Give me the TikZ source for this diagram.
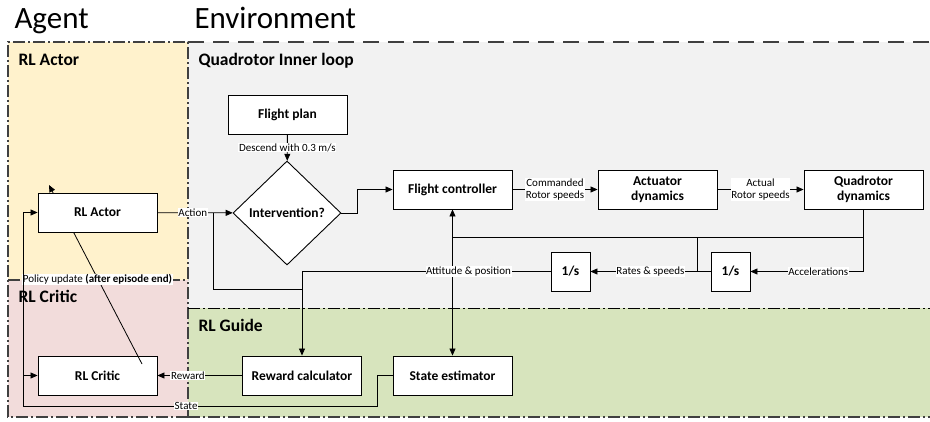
\documentclass[tikz,border=0pt]{standalone}
\usepackage{fontspec}
\setmainfont{Carlito}
\usetikzlibrary{arrows.meta,shapes.geometric}
\definecolor{actorbg}{HTML}{FFF2CC}
\definecolor{criticbg}{HTML}{F2DCDB}
\definecolor{loopbg}{HTML}{F2F2F2}
\definecolor{guidebg}{HTML}{D7E4BD}
\definecolor{rim}{HTML}{404040}

\begin{document}
\begin{tikzpicture}[x=1pt,y=-1pt,
  blk/.style={draw,fill=white,line width=0.9pt,minimum width=119pt,minimum height=39pt,
    inner sep=2pt,align=center,font=\fontsize{13.5}{15}\selectfont\bfseries},
  sq/.style={blk,minimum width=39pt},
  lbl/.style={fill=white,inner sep=0.6pt,align=center,font=\fontsize{11}{11.5}\selectfont},
  zone/.style={anchor=base west,font=\fontsize{17.5}{19}\selectfont\bfseries},
  wire/.style={line width=0.8pt},
  flow/.style={wire,-{Triangle[length=7pt,width=6pt]}},
  rimdash/.style={draw=rim,line width=1.3pt,dash pattern=on 12pt off 3pt on 2pt off 3pt}]
\useasboundingbox (0,0) rectangle (930,421);
\fill[actorbg] (8,42) rectangle (188,280);
\fill[criticbg] (8,280) rectangle (188,417);
\fill[loopbg] (188,42) rectangle (930,308);
\fill[guidebg] (188,308) rectangle (930,417);
\draw[rimdash] (188,417) -- (8,417) -- (8,42) -- (188,42) -- cycle;
\draw[rimdash] (188,417) -- (930,417);
\draw[rimdash] (8,280) -- (188,280);
\draw[draw=rim,line width=1.3pt,dash pattern=on 16pt off 9pt] (188,42) -- (930,42);
\draw[line width=0.9pt,dash pattern=on 12pt off 3pt on 2pt off 3pt] (188,308) -- (930,308);

\node[anchor=base west,font=\fontsize{31}{33}\selectfont] (agent) at (11,28) {Agent};
\node[anchor=base west,font=\fontsize{31}{33}\selectfont] (env) at (191,28) {Environment};
\node[zone] (zactor) at (15,65) {RL Actor};
\node[zone] (zloop) at (195,65) {Quadrotor Inner loop};
\node[zone] (zcritic) at (15,302) {RL Critic};
\node[zone] (zguide) at (195,331) {RL Guide};

\node[blk] (critic) at (97.5,375.5) {RL Critic};
\coordinate (pu0) at (142,364);
\coordinate (pu1) at (49,185);
\draw[flow] (pu0) -- (pu1);
\node[blk] (actor) at (97.5,212.5) {RL Actor};
\node[lbl] (policy) at (97.5,279.5) {Policy update \textbf{(after episode end)}};

\node[blk] (fplan) at (287.5,114.5) {Flight plan};
\node[draw,fill=white,line width=0.9pt,diamond,inner sep=0pt,minimum width=108pt,minimum height=104pt,
  font=\fontsize{13.5}{15}\selectfont\bfseries] (chk) at (287,213) {Intervention?};
\node[blk] (fctl) at (452.5,189.5) {Flight controller};
\node[blk] (act) at (657.5,189.5) {Actuator\\dynamics};
\node[blk] (quad) at (863.5,189.5) {Quadrotor\\dynamics};
\node[sq] (int1) at (570.5,271.5) {1/s};
\node[sq] (int2) at (730.5,271.5) {1/s};
\node[blk] (reward) at (302,375.5) {Reward calculator};
\node[blk] (est) at (452.5,375.5) {State estimator};

\coordinate (split) at (213,212.5);
\coordinate (merge) at (302,289);
\coordinate (bus) at (863.5,237);
\coordinate (tap) at (697,271.5);
\coordinate (sbus) at (23,406);

\draw[flow] (fplan) -- node[lbl]{Descend with 0.3 m/s} (chk);
\draw[flow] (actor) -- node[lbl,pos=0.47]{Action} (chk);
\draw[wire] (split) |- (merge);
\draw[flow] (chk.east) -- ++(16,0) |- (fctl.west);
\draw[flow] (fctl) -- node[lbl]{Commanded\\Rotor speeds} (act);
\draw[flow] (act) -- node[lbl]{Actual\\Rotor speeds} (quad);
\draw[flow] (quad.south) |- node[lbl,pos=0.7]{Accelerations} (int2.east);
\draw[flow] (int2) -- node[lbl]{Rates \& speeds} (int1);
\draw[wire] (tap) -- (tap |- bus);
\draw[wire] (bus) -- (fctl.south |- bus);
\draw[flow] (fctl.south |- bus) -- (fctl);
\draw[flow] (fctl.south |- bus) -- (est);
\draw[flow] (int1.west) -- node[lbl,pos=0.33]{Attitude \& position} (int1.west -| reward) -- (reward);
\draw[flow] (reward) -- node[lbl,pos=0.64]{Reward} (critic);
\draw[wire] (est.west) -- ++(-15,0) |- node[lbl,pos=0.77]{State} (sbus);
\draw[flow] (sbus) |- (actor.west);
\draw[flow] (sbus |- critic) -- (critic.west);
\end{tikzpicture}
\end{document}
